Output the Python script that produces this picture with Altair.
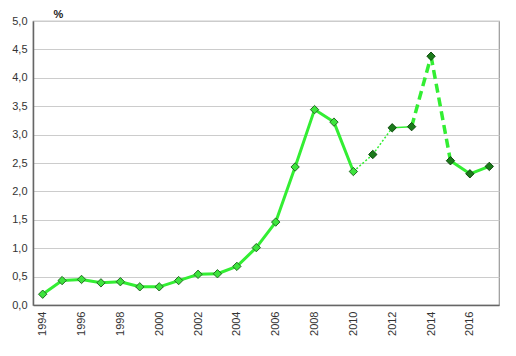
import altair as alt
import pandas as pd

years = list(range(1994, 2018))
values = [0.19, 0.43, 0.45, 0.39, 0.41, 0.32, 0.32, 0.43, 0.54, 0.55, 0.68, 1.01,
          1.46, 2.43, 3.44, 3.22, 2.35, 2.65, 3.12, 3.14, 4.38, 2.54, 2.31, 2.44]
# marker group per point: "a" = light green (to 2010), "b" = dark green (after)
marker_group = ["a"] * 17 + ["b"] * 7
# line style for each segment starting at years[i]
seg_style = (["solid"] * 16 + ["dotted", "dotted", "thin", "dashed", "dashed", "solid", "solid"])

rows = []
for i, st in enumerate(seg_style):
    for j in (i, i + 1):
        rows.append({"seg": i, "style": st, "year": years[j], "value": values[j]})
segs = pd.DataFrame(rows)
pts = pd.DataFrame({"year": years, "value": values, "grp": marker_group})

GREEN = "#33ee33"
xs = alt.X("year:Q", scale=alt.Scale(domain=[1993.5, 2017.5], nice=False, zero=False),
           axis=alt.Axis(values=list(range(1994, 2017, 2)), format="d", labelAngle=-90,
                         grid=False, ticks=False, labelPadding=6, labelFontSize=11,
                         labelColor="#333333", labelFont="Liberation Sans",
                         domainColor="#666666", domainWidth=1.5, title=None))
ys = alt.Y("value:Q", scale=alt.Scale(domain=[0, 5], nice=False),
           axis=alt.Axis(values=[i * 0.5 for i in range(11)],
                         labelExpr="replace(format(datum.value, '.1f'), '.', ',')",
                         ticks=False, labelPadding=6, labelFontSize=11,
                         labelColor="#333333", labelFont="Liberation Sans",
                         gridColor="#cccccc", gridWidth=1.2, domainColor="#666666",
                         domainWidth=1.5, title="%", titleAngle=0, titleX=20, titleY=-2,
                         titleAlign="left", titleBaseline="bottom", titleFontSize=11,
                         titleFont="Liberation Sans", titleFontWeight="bold",
                         titleColor="#222222"))

base = alt.Chart(segs)
solid = base.transform_filter("datum.style == 'solid'").mark_line(
    color=GREEN, strokeWidth=3, strokeCap="round", strokeJoin="round").encode(
    x=xs, y=ys, detail="seg:N")
dotted = base.transform_filter("datum.style == 'dotted'").mark_line(
    color=GREEN, strokeWidth=1.5, strokeDash=[2, 2]).encode(x=xs, y=ys, detail="seg:N")
thin = base.transform_filter("datum.style == 'thin'").mark_line(
    color=GREEN, strokeWidth=1.5).encode(x=xs, y=ys, detail="seg:N")
dashed = base.transform_filter("datum.style == 'dashed'").mark_line(
    color=GREEN, strokeWidth=3.5, strokeDash=[9, 5]).encode(x=xs, y=ys, detail="seg:N")

points = alt.Chart(pts).mark_point(shape="diamond", size=70, filled=True, strokeWidth=1,
                                   opacity=1).encode(
    x=xs, y=ys,
    fill=alt.Fill("grp:N", scale=alt.Scale(domain=["a", "b"], range=["#3de43d", "#1b7a1b"]),
                  legend=None),
    stroke=alt.Stroke("grp:N", scale=alt.Scale(domain=["a", "b"], range=["#236b23", "#0e4a0e"]),
                      legend=None))

chart = alt.layer(solid, dotted, thin, dashed, points).properties(
    width=466, height=284,
    autosize=alt.AutoSizeParams(type="none"),
    padding={"left": 25, "top": 13, "right": 9, "bottom": 42},
    background="white",
).configure_view(stroke="#999999", strokeWidth=1.2)

chart.save("out.html", embed_options={"renderer": "svg", "actions": False})
